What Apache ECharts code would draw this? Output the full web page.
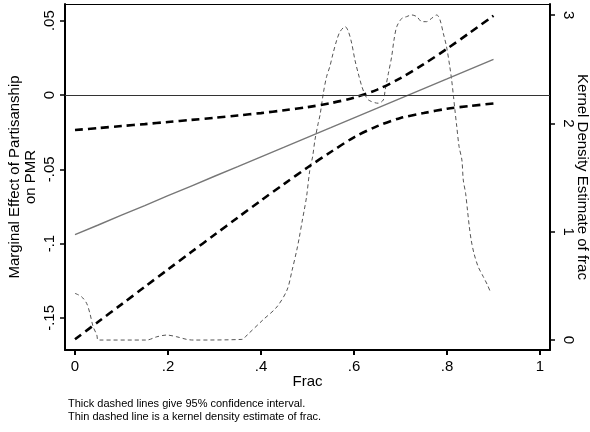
<!DOCTYPE html>
<html>
<head>
<meta charset="utf-8">
<script src="https://cdn.jsdelivr.net/npm/echarts@6/dist/echarts.min.js"></script>
<style>
  html, body { margin: 0; padding: 0; background: #fff; }
  #chart { width: 590px; height: 432px; }
</style>
</head>
<body>
<div id="chart"></div>
<script>
// Grid of Frac values at which the marginal effect was evaluated
const fracGrid = [0, 0.05, 0.1, 0.15, 0.2, 0.25, 0.3, 0.35, 0.4, 0.45, 0.5,
                  0.55, 0.6, 0.65, 0.7, 0.75, 0.8, 0.85, 0.9];
// Marginal effect of partisanship on PMR
const effect = [-0.0940, -0.0875, -0.0809, -0.0744, -0.0678, -0.0613, -0.0547,
                -0.0482, -0.0416, -0.0351, -0.0285, -0.0220, -0.0154, -0.0089,
                -0.0023, 0.0043, 0.0108, 0.0174, 0.0239];
// 95% confidence bounds
const ciUpper = [-0.0236, -0.0223, -0.0209, -0.0196, -0.0182, -0.0168, -0.0154,
                 -0.0138, -0.0122, -0.0103, -0.0082, -0.0055, -0.0018, 0.0036,
                 0.0113, 0.0207, 0.0311, 0.0421, 0.0533];
const ciLower = [-0.1644, -0.1526, -0.1409, -0.1291, -0.1174, -0.1057, -0.0941,
                 -0.0825, -0.0710, -0.0598, -0.0488, -0.0384, -0.0285, -0.0210,
                 -0.0155, -0.0122, -0.0093, -0.0074, -0.0057];
// Kernel density estimate of frac
const densFrac = [0, 0.014, 0.025, 0.032, 0.039, 0.047, 0.050, 0.154, 0.176, 0.197,
                  0.219, 0.240, 0.254, 0.359, 0.370, 0.404, 0.434, 0.456, 0.467,
                  0.477, 0.482, 0.489, 0.493, 0.498, 0.505, 0.511, 0.516, 0.523,
                  0.527, 0.534, 0.541, 0.548, 0.555, 0.563, 0.570, 0.581, 0.588,
                  0.595, 0.602, 0.609, 0.617, 0.624, 0.631, 0.652, 0.663, 0.667,
                  0.674, 0.681, 0.686, 0.692, 0.703, 0.713, 0.724, 0.735, 0.746,
                  0.756, 0.767, 0.778, 0.785, 0.792, 0.799, 0.806, 0.810, 0.814,
                  0.817, 0.821, 0.826, 0.832, 0.835, 0.840, 0.844, 0.848, 0.852,
                  0.858, 0.867, 0.878, 0.887, 0.894];
const densVal = [0.431, 0.400, 0.339, 0.247, 0.123, 0.046, 0, 0, 0.030, 0.046,
                 0.030, 0.006, 0, 0.006, 0.046, 0.185, 0.305, 0.462, 0.646,
                 0.831, 0.939, 1.108, 1.200, 1.323, 1.570, 1.692, 1.847, 2.001,
                 2.078, 2.278, 2.431, 2.524, 2.647, 2.770, 2.847, 2.893, 2.847,
                 2.740, 2.585, 2.463, 2.339, 2.262, 2.216, 2.186, 2.216, 2.308,
                 2.463, 2.616, 2.770, 2.893, 2.970, 2.985, 3.001, 2.985, 2.939,
                 2.939, 2.970, 3.001, 2.955, 2.832, 2.708, 2.524, 2.401, 2.247,
                 2.124, 1.970, 1.785, 1.662, 1.477, 1.355, 1.200, 1.046, 0.923,
                 0.800, 0.677, 0.585, 0.508, 0.437];
// Tick positions and labels
const xTicks = [0, 0.2, 0.4, 0.6, 0.8, 1];
const leftTicks = [-0.15, -0.1, -0.05, 0, 0.05];
const rightTicks = [0, 1, 2, 3];

const pairs = (xs, ys) => xs.map((x, i) => [x, ys[i]]);
const stataNum = v => {
  if (Math.abs(v) < 1e-9) return '0';
  let s = String(+v.toFixed(4));
  return s.replace(/^(-?)0\./, '$1.');
};

const FONT = 'Liberation Sans, Arial, Helvetica, sans-serif';
const chart = echarts.init(document.getElementById('chart'), null, { renderer: 'canvas' });

chart.setOption({
  animation: false,
  backgroundColor: '#fff',
  grid: { left: 65, right: 40, top: 4, bottom: 82, containLabel: false, outerBoundsMode: 'none' },
  xAxis: [{
    type: 'value', min: -0.0215, max: 1.0215,
    name: 'Frac', nameLocation: 'middle', nameGap: 24, nameMoveOverlap: false,
    nameTextStyle: { fontFamily: FONT, fontSize: 15, color: '#000' },
    axisLine: { show: true, onZero: false, lineStyle: { color: '#000', width: 2 } },
    axisTick: { show: true, length: 5, customValues: xTicks, lineStyle: { color: '#000', width: 2 } },
    axisLabel: { customValues: xTicks, margin: 9, formatter: stataNum,
                 fontFamily: FONT, fontSize: 15, color: '#000' },
    splitLine: { show: false }
  }, {
    type: 'value', min: -0.0215, max: 1.0215, position: 'top',
    axisLine: { show: true, onZero: false, lineStyle: { color: '#000', width: 1.2 } },
    axisTick: { show: false }, axisLabel: { show: false }, splitLine: { show: false }
  }],
  yAxis: [{
    type: 'value', min: -0.1716, max: 0.0612, position: 'left',
    name: 'Marginal Effect of Partisanship\non PMR', nameLocation: 'middle', nameRotate: 90,
    nameGap: 26, nameMoveOverlap: false,
    nameTextStyle: { fontFamily: FONT, fontSize: 15, color: '#000', lineHeight: 16 },
    axisLine: { show: true, onZero: false, lineStyle: { color: '#000', width: 2 } },
    axisTick: { show: true, length: 5, customValues: leftTicks, lineStyle: { color: '#000', width: 1.5 } },
    axisLabel: { customValues: leftTicks, rotate: 90, margin: 8, formatter: stataNum,
                 fontFamily: FONT, fontSize: 15, color: '#000' },
    splitLine: { show: false }
  }, {
    type: 'value', min: -0.092, max: 3.102, position: 'right',
    name: 'Kernel Density Estimate of frac', nameLocation: 'middle', nameRotate: -90,
    nameGap: 25, nameMoveOverlap: false,
    nameTextStyle: { fontFamily: FONT, fontSize: 15, color: '#000' },
    axisLine: { show: true, onZero: false, lineStyle: { color: '#000', width: 2 } },
    axisTick: { show: true, length: 5, customValues: rightTicks, lineStyle: { color: '#000', width: 1.5 } },
    axisLabel: { customValues: rightTicks, rotate: -90, margin: 11,
                 fontFamily: FONT, fontSize: 15, color: '#000' },
    splitLine: { show: false }
  }],
  series: [{
    name: 'Kernel density', type: 'line', xAxisIndex: 0, yAxisIndex: 1,
    data: pairs(densFrac, densVal), showSymbol: false, smooth: 0.3,
    lineStyle: { color: '#555', width: 1, type: [4, 3] }, z: 2
  }, {
    name: 'Marginal effect', type: 'line', xAxisIndex: 0, yAxisIndex: 0,
    data: pairs(fracGrid, effect), showSymbol: false,
    lineStyle: { color: '#777', width: 1.4 }, z: 3,
    markLine: {
      silent: true, symbol: 'none', label: { show: false },
      lineStyle: { color: '#333', width: 1, type: 'solid' },
      data: [{ yAxis: 0 }]
    }
  }, {
    name: 'Upper bound', type: 'line', xAxisIndex: 0, yAxisIndex: 0,
    data: pairs(fracGrid, ciUpper), showSymbol: false, smooth: 0.3,
    lineStyle: { color: '#000', width: 2.6, type: [8, 5] }, z: 4
  }, {
    name: 'Lower bound', type: 'line', xAxisIndex: 0, yAxisIndex: 0,
    data: pairs(fracGrid, ciLower), showSymbol: false, smooth: 0.3,
    lineStyle: { color: '#000', width: 2.6, type: [8, 5] }, z: 4
  }],
  graphic: [{
    type: 'text', left: 68, top: 398,
    style: {
      text: 'Thick dashed lines give 95% confidence interval.\nThin dashed line is a kernel density estimate of frac.',
      font: '11px ' + FONT, fill: '#000', lineHeight: 12.5
    }
  }]
});
</script>
</body>
</html>
